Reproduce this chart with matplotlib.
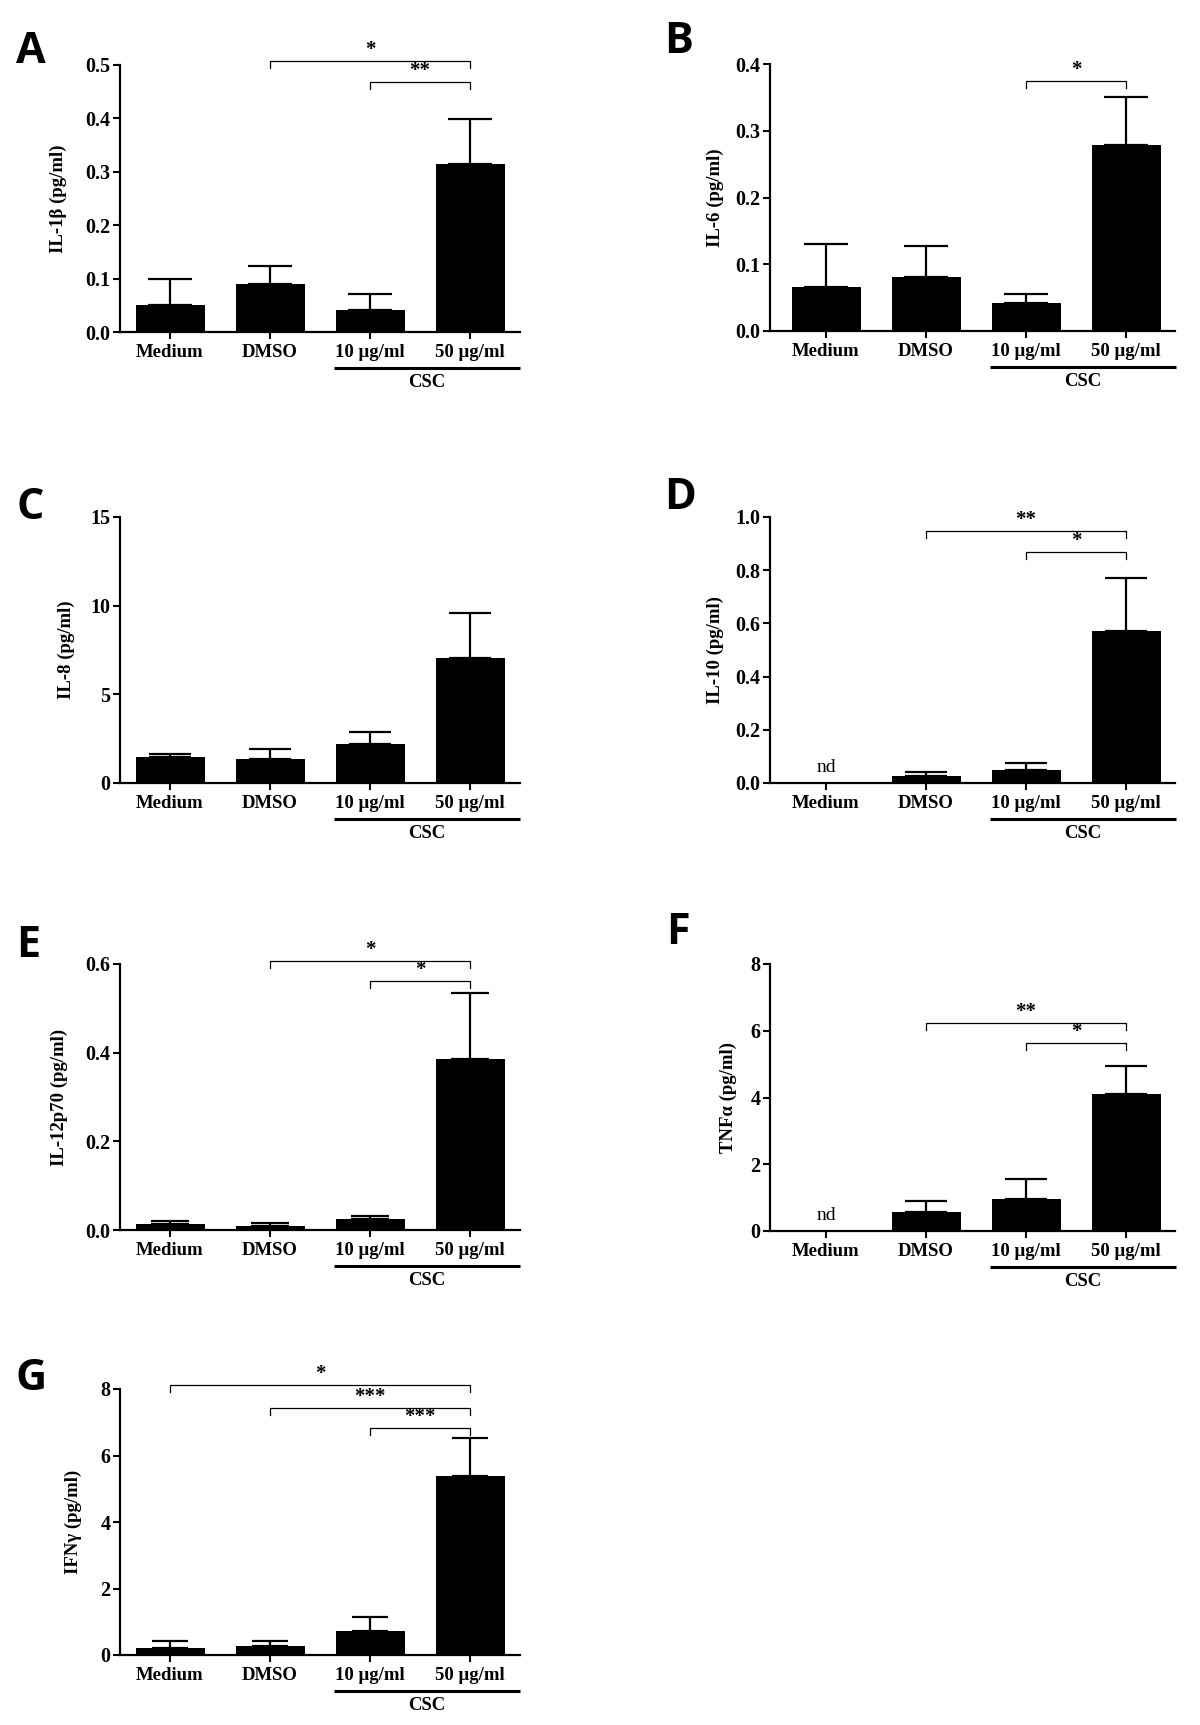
import numpy as np
import matplotlib.pyplot as plt
from matplotlib.ticker import FormatStrFormatter

plt.rcParams['font.family'] = ['Liberation Serif', 'DejaVu Serif']

# --- data ---
groups = ["Medium", "DMSO", "10 \u03bcg/ml", "50 \u03bcg/ml"]

il1b_mean = [0.051, 0.089, 0.042, 0.315]
il1b_sem = [0.049, 0.034, 0.030, 0.083]

il6_mean = [0.066, 0.081, 0.042, 0.279]
il6_sem = [0.064, 0.046, 0.013, 0.072]

il8_mean = [1.49, 1.35, 2.18, 7.07]
il8_sem = [0.16, 0.55, 0.70, 2.50]

il10_mean = [np.nan, 0.028, 0.050, 0.573]
il10_sem = [np.nan, 0.013, 0.026, 0.196]

il12_mean = [0.0135, 0.0098, 0.024, 0.386]
il12_sem = [0.0065, 0.0052, 0.008, 0.149]

tnf_mean = [np.nan, 0.56, 0.97, 4.10]
tnf_sem = [np.nan, 0.34, 0.60, 0.85]

ifng_mean = [0.22, 0.28, 0.71, 5.37]
ifng_sem = [0.19, 0.15, 0.42, 1.15]

# significance brackets: (from group, to group, height, label)
il1b_sig = [(1, 3, 0.507, "*"), (2, 3, 0.468, "**")]
il6_sig = [(2, 3, 0.375, "*")]
il8_sig = []
il10_sig = [(1, 3, 0.947, "**"), (2, 3, 0.867, "*")]
il12_sig = [(1, 3, 0.606, "*"), (2, 3, 0.562, "*")]
tnf_sig = [(1, 3, 6.24, "**"), (2, 3, 5.62, "*")]
ifng_sig = [(0, 3, 8.12, "*"), (1, 3, 7.44, "***"), (2, 3, 6.82, "***")]

W, H = 1200, 1725
fig = plt.figure(figsize=(W / 100, H / 100), dpi=100)


def make_ax(left, top, right, bottom):
    return fig.add_axes([left / W, 1 - bottom / H, (right - left) / W, (bottom - top) / H])


def draw_panel(ax, means, sems, ylabel, yticks, fmt, sig, label_px, xlim, cap=15):
    x = np.arange(len(groups))
    means = np.array(means, dtype=float)
    sems = np.array(sems, dtype=float)
    ok = ~np.isnan(means)

    ax.bar(x[ok], means[ok], width=0.69, color='black', zorder=2)
    ax.errorbar(x[ok], means[ok], yerr=[np.zeros(ok.sum()), sems[ok]], fmt='none',
                ecolor='black', elinewidth=1.6, capsize=cap, capthick=1.6, zorder=3)
    for i in x[~ok]:
        ax.text(i, yticks[-1] * 0.025, "nd", ha='center', va='bottom', fontsize=14)

    ymax = yticks[-1]
    ax.set_xlim(*xlim)
    ax.set_ylim(0, ymax)
    ax.set_yticks(yticks)
    ax.yaxis.set_major_formatter(FormatStrFormatter(fmt))
    ax.set_xticks(x)
    ax.set_xticklabels(groups, fontsize=13.5, fontweight='bold')
    for t in ax.get_yticklabels():
        t.set_fontsize(14.5)
        t.set_fontweight('bold')
    ax.tick_params(axis='y', direction='out', length=5, width=1.5, pad=2)
    ax.tick_params(axis='x', direction='out', length=5, width=1.5, pad=3.5)
    for s in ['top', 'right']:
        ax.spines[s].set_visible(False)
    for s in ['left', 'bottom']:
        ax.spines[s].set_linewidth(1.6)

    ax.set_ylabel(ylabel, fontsize=13.5, fontweight='bold')
    width_px = ax.get_position().width * W
    ax.yaxis.set_label_coords(-label_px / width_px, 0.5)

    # CSC group line
    tr = ax.get_xaxis_transform()
    ax.plot([1.64, 3.5], [-0.135, -0.135], transform=tr, color='black', lw=2.2,
            clip_on=False, solid_capstyle='butt')
    ax.text(2.57, -0.19, "CSC", transform=tr, ha='center', va='center',
            fontsize=13.5, fontweight='bold')

    # significance brackets
    tick = 0.026 * ymax
    for a, b, h, lab in sig:
        ax.plot([a, a, b, b], [h - tick, h, h, h - tick], color='black', lw=0.9,
                clip_on=False)
        ax.text((a + b) / 2, h + 0.004 * ymax, lab, ha='center', va='bottom',
                fontsize=15, fontweight='bold', clip_on=False)


LX0, LX1, LXLIM = 120, 520, (-0.5, 3.5)
RX0, RX1, RXLIM = 770, 1175, (-0.56, 3.49)

axA = make_ax(LX0, 65, LX1, 332)
draw_panel(axA, il1b_mean, il1b_sem, "IL-1\u03b2 (pg/ml)",
           [0.0, 0.1, 0.2, 0.3, 0.4, 0.5], '%.1f', il1b_sig, 53, LXLIM, cap=16)

axB = make_ax(RX0, 64, RX1, 331)
draw_panel(axB, il6_mean, il6_sem, "IL-6 (pg/ml)",
           [0.0, 0.1, 0.2, 0.3, 0.4], '%.1f', il6_sig, 46, RXLIM, cap=16)

axC = make_ax(LX0, 517, LX1, 783)
draw_panel(axC, il8_mean, il8_sem, "IL-8 (pg/ml)",
           [0, 5, 10, 15], '%d', il8_sig, 45, LXLIM, cap=15)

axD = make_ax(RX0, 517, RX1, 783)
draw_panel(axD, il10_mean, il10_sem, "IL-10 (pg/ml)",
           [0.0, 0.2, 0.4, 0.6, 0.8, 1.0], '%.1f', il10_sig, 46, RXLIM, cap=15)

axE = make_ax(LX0, 964, LX1, 1230)
draw_panel(axE, il12_mean, il12_sem, "IL-12p70 (pg/ml)",
           [0.0, 0.2, 0.4, 0.6], '%.1f', il12_sig, 52, LXLIM, cap=14)

axF = make_ax(RX0, 964, RX1, 1231)
draw_panel(axF, tnf_mean, tnf_sem, "TNF\u03b1 (pg/ml)",
           [0, 2, 4, 6, 8], '%d', tnf_sig, 33, RXLIM, cap=15)

axG = make_ax(LX0, 1389, LX1, 1655)
draw_panel(axG, ifng_mean, ifng_sem, "IFN\u03b3 (pg/ml)",
           [0, 2, 4, 6, 8], '%d', ifng_sig, 38, LXLIM, cap=13)

# panel letters
letters = [("A", 31, 63), ("B", 679, 53), ("C", 30, 519), ("D", 680, 509),
           ("E", 28, 957), ("F", 678, 944), ("G", 31, 1390)]
for lab, px, py in letters:
    fig.text(px / W, 1 - py / H, lab, ha='center', va='baseline',
             fontsize=31, fontweight='bold', family=['Open Sans', 'DejaVu Sans'])

fig.savefig("out.png", dpi=100, facecolor='white')
